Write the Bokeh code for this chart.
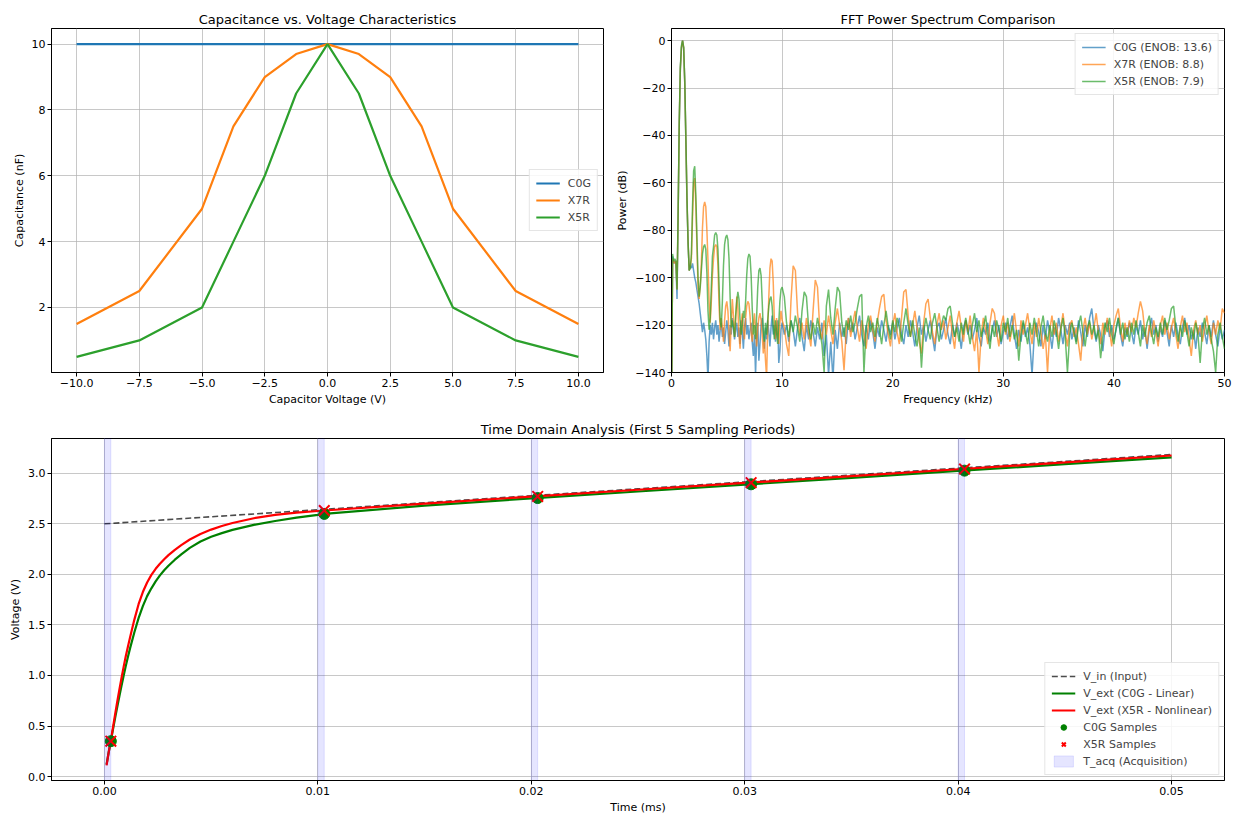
import numpy as np
from bokeh.plotting import figure
from bokeh.layouts import column, row
from bokeh.models import Range1d, CustomJSTickFormatter, Legend, LegendItem
from bokeh.embed import file_html
from bokeh.resources import INLINE

FONT = "DejaVu Sans"

# ---------------- Panel 1: capacitance vs voltage ----------------
cap_voltage = [-10, -7.5, -5, -3.75, -2.5, -1.25, 0, 1.25, 2.5, 3.75, 5, 7.5, 10]
cap_c0g = [10, 10, 10, 10, 10, 10, 10, 10, 10, 10, 10, 10, 10]
cap_x7r = [1.5, 2.5, 5.0, 7.5, 9.0, 9.7, 10.0, 9.7, 9.0, 7.5, 5.0, 2.5, 1.5]
cap_x5r = [0.5, 1.0, 2.0, 4.0, 6.0, 8.5, 10.0, 8.5, 6.0, 4.0, 2.0, 1.0, 0.5]

# ---------------- Panel 2: FFT spectrum ----------------
fft_freq_khz = np.concatenate([np.arange(0, 101) * 0.1, 10 + np.arange(1, 201) * 0.2])

c0g_lo = [[-160],
    [-91, -94, -93, -94, -109, -74, -36, -12, -3, 0],
    [-3, -18, -43, -68, -86, -97, -95, -96, -94, -97],
    [-100, -102, -105, -108, -111, -115, -119, -123, -119, -122],
    [-126, -133, -143, -127, -120, -124, -119, -126, -121, -118],
    [-124, -120, -127, -122, -119, -125, -121, -128, -123, -118],
    [-122, -129, -120, -124, -117, -121, -126, -122, -119, -125],
    [-121, -128, -118, -123, -130, -121, -117, -124, -120, -126],
    [-122, -119, -127, -133, -124, -141, -125, -119, -135, -128],
    [-120, -117, -124, -130, -121, -126, -118, -123, -129, -121],
    [-116, -124, -120, -127, -122, -118, -136, -131, -122, -119]]
c0g_hi = [
    [-124, -120, -127, -118, -122, -129, -121, -117, -125, -131],
    [-120, -126, -118, -123, -129, -121, -126, -119, -133, -124],
    [-141, -127, -143, -122, -130, -119, -125, -121, -128, -117],
    [-123, -119, -126, -121, -116, -124, -129, -120, -126, -118],
    [-123, -130, -121, -125, -118, -122, -127, -120, -124, -119],
    [-126, -121, -117, -124, -128, -120, -125, -118, -123, -129],
    [-121, -116, -124, -120, -127, -122, -118, -125, -131, -121],
    [-119, -126, -122, -117, -124, -128, -120, -125, -119, -123],
    [-130, -121, -118, -124, -120, -126, -122, -117, -125, -129],
    [-121, -124, -119, -127, -122, -118, -125, -120, -128, -123],
    [-119, -126, -121, -116, -124, -130, -122, -127, -119, -125],
    [-121, -128, -141, -124, -119, -123, -129, -120, -126, -118],
    [-123, -130, -121, -125, -117, -122, -128, -120, -124, -119],
    [-126, -121, -127, -118, -123, -129, -120, -125, -117, -113],
    [-122, -127, -120, -124, -131, -121, -118, -125, -120, -126],
    [-122, -117, -124, -129, -121, -125, -119, -123, -128, -120],
    [-124, -118, -126, -121, -130, -122, -117, -124, -120, -127],
    [-121, -125, -118, -123, -129, -120, -125, -119, -124, -128],
    [-121, -117, -124, -120, -126, -122, -130, -121, -125, -119],
    [-123, -128, -120, -125, -118, -124, -129, -121, -126, -122]]

x7r_lo = [[-160],
    [-92, -93, -94, -93, -105, -73, -35, -12, -3, 0],
    [-3, -18, -42, -67, -85, -97, -95, -92, -75, -60],
    [-58, -69, -87, -104, -109, -103, -94, -79, -70, -68],
    [-70, -80, -93, -110, -119, -110, -99, -92, -87, -86],
    [-87, -95, -112, -122, -117, -121, -127, -118, -112, -110],
    [-114, -123, -131, -119, -109, -116, -125, -118, -108, -113],
    [-124, -130, -119, -115, -122, -126, -117, -112, -110, -111],
    [-116, -123, -127, -120, -115, -122, -129, -121, -117, -115],
    [-118, -124, -132, -126, -135, -142, -121, -108, -96, -92],
    [-93, -102, -118, -126, -117, -123, -128, -119, -114, -118]]
x7r_hi = [
    [-121, -128, -133, -110, -95, -97, -115, -124, -119, -126],
    [-117, -123, -129, -114, -101, -104, -121, -126, -118, -124],
    [-116, -122, -128, -119, -113, -120, -127, -139, -122, -117],
    [-125, -119, -114, -121, -127, -118, -123, -130, -120, -116],
    [-122, -127, -119, -113, -108, -107, -118, -124, -129, -120],
    [-115, -123, -128, -117, -106, -105, -116, -125, -120, -114],
    [-121, -127, -132, -119, -111, -109, -117, -123, -128, -120],
    [-115, -122, -118, -126, -121, -116, -124, -130, -119, -114],
    [-121, -127, -118, -123, -116, -125, -131, -122, -140, -124],
    [-117, -122, -128, -119, -113, -115, -123, -129, -120, -116],
    [-124, -119, -127, -121, -115, -123, -129, -118, -124, -120],
    [-115, -122, -128, -119, -125, -117, -123, -130, -124, -140],
    [-122, -116, -124, -119, -127, -121, -115, -123, -129, -120],
    [-118, -125, -121, -128, -135, -122, -117, -124, -119, -126],
    [-121, -115, -123, -128, -119, -124, -117, -122, -129, -120],
    [-116, -113, -121, -127, -119, -124, -118, -123, -117, -121],
    [-115, -110, -114, -123, -128, -120, -125, -118, -123, -129],
    [-120, -116, -124, -119, -126, -121, -117, -124, -130, -121],
    [-116, -123, -119, -126, -133, -122, -118, -124, -120, -127],
    [-121, -116, -123, -128, -119, -124, -118, -122, -113, -115]]

x5r_lo = [[-160],
    [-90, -93, -92, -93, -105, -72, -34, -11, -2, 0],
    [-3, -17, -41, -66, -85, -97, -96, -90, -70, -55],
    [-53, -65, -83, -100, -108, -104, -97, -90, -87, -86],
    [-88, -98, -114, -122, -117, -104, -91, -87, -82, -81],
    [-82, -88, -103, -118, -121, -110, -95, -86, -83, -82],
    [-84, -92, -108, -121, -118, -121, -125, -116, -110, -106],
    [-109, -118, -124, -120, -114, -117, -110, -99, -92, -90],
    [-91, -99, -113, -124, -120, -126, -116, -104, -97, -96],
    [-99, -110, -122, -127, -119, -124, -118, -112, -109, -108],
    [-112, -121, -126, -118, -123, -128, -119, -110, -105, -104]]
x5r_hi = [
    [-108, -119, -125, -118, -123, -116, -121, -127, -114, -106],
    [-108, -121, -126, -119, -124, -117, -122, -128, -140, -112],
    [-105, -117, -124, -113, -104, -106, -119, -125, -118, -122],
    [-116, -123, -119, -113, -108, -107, -140, -121, -116, -123],
    [-119, -125, -117, -122, -128, -120, -114, -121, -126, -118],
    [-123, -117, -121, -127, -119, -113, -120, -125, -118, -124],
    [-129, -121, -138, -123, -117, -122, -126, -119, -115, -121],
    [-127, -120, -116, -118, -113, -112, -119, -125, -121, -127],
    [-119, -124, -117, -122, -128, -120, -115, -123, -118, -125],
    [-121, -116, -124, -130, -120, -125, -118, -122, -127, -119],
    [-123, -117, -125, -120, -126, -122, -135, -124, -118, -123],
    [-128, -119, -124, -117, -122, -129, -121, -116, -123, -127],
    [-120, -125, -118, -123, -130, -122, -117, -125, -140, -124],
    [-119, -123, -128, -120, -116, -123, -129, -121, -118, -124],
    [-120, -126, -122, -134, -125, -119, -123, -117, -124, -128],
    [-121, -117, -124, -119, -126, -121, -127, -119, -124, -118],
    [-123, -129, -120, -125, -119, -116, -123, -128, -121, -125],
    [-119, -124, -117, -122, -118, -113, -112, -121, -127, -120],
    [-125, -118, -123, -129, -121, -126, -119, -124, -136, -122],
    [-117, -124, -120, -126, -131, -140, -124, -119, -125, -130]]

fft_c0g = sum(c0g_lo + c0g_hi, [])
fft_x7r = sum(x7r_lo + x7r_hi, [])
fft_x5r = sum(x5r_lo + x5r_hi, [])

fft_labels = ["C0G (ENOB: 13.6)", "X7R (ENOB: 8.8)", "X5R (ENOB: 7.9)"]

# ---------------- Panel 3: time domain ----------------
vin_t = [0.0, 0.005, 0.01, 0.015, 0.02, 0.025, 0.03, 0.035, 0.04, 0.045, 0.05]
vin_v = [2.500, 2.570, 2.639, 2.709, 2.778, 2.846, 2.914, 2.982, 3.050, 3.117, 3.186]

ext_t = [0.0001, 0.0002, 0.0003, 0.0004, 0.0005, 0.0006, 0.0007, 0.0008, 0.0009, 0.001, 0.0011, 0.0012,
         0.0014, 0.0016, 0.0018, 0.002, 0.0022, 0.0024, 0.0026, 0.0028, 0.003,
         0.0033, 0.0036, 0.004, 0.0045, 0.005, 0.0055, 0.006,
         0.007, 0.008, 0.009, 0.010, 0.0103,
         0.015, 0.02, 0.025, 0.03, 0.035, 0.04, 0.045, 0.05]
ext_c0g = [0.12, 0.24, 0.35, 0.465, 0.578, 0.688, 0.795, 0.898, 0.998, 1.093, 1.183, 1.268,
           1.425, 1.567, 1.686, 1.785, 1.862, 1.930, 1.99, 2.04, 2.085,
           2.145, 2.198, 2.262, 2.325, 2.372, 2.408, 2.44,
           2.49, 2.528, 2.561, 2.589, 2.598,
           2.68, 2.752, 2.82, 2.888, 2.955, 3.023, 3.09, 3.158]
ext_x5r = [0.11, 0.24, 0.355, 0.485, 0.615, 0.74, 0.86, 0.975, 1.085, 1.19, 1.285, 1.375,
           1.55, 1.705, 1.825, 1.92, 1.995, 2.055, 2.105, 2.15, 2.19,
           2.243, 2.29, 2.345, 2.40, 2.443, 2.478, 2.508,
           2.555, 2.588, 2.61, 2.627, 2.632,
           2.70, 2.769, 2.837, 2.905, 2.972, 3.040, 3.107, 3.176]

sample_t = [0.0003, 0.0103, 0.0203, 0.0303, 0.0403]
sample_c0g = [0.35, 2.598, 2.755, 2.891, 3.026]
sample_x5r = [0.35, 2.632, 2.771, 2.907, 3.042]
acq_start = [0.0, 0.01, 0.02, 0.03, 0.04]
acq_end = [0.0003, 0.0103, 0.0203, 0.0303, 0.0403]

C0 = "#1f77b4"
C1 = "#ff7f0e"
C2 = "#2ca02c"


def style(p, title):
    p.title.text = title
    p.title.text_font = FONT
    p.title.text_font_style = "normal"
    p.title.text_font_size = "13px"
    p.title.align = "center"
    p.title.text_color = "black"
    p.title.standoff = 4
    p.outline_line_color = "black"
    p.outline_line_width = 1
    p.outline_line_alpha = 1
    p.background_fill_color = "white"
    p.border_fill_color = "white"
    for ax in p.axis:
        ax.axis_line_color = "black"
        ax.major_tick_in = 0
        ax.major_tick_out = 4
        ax.minor_tick_in = 0
        ax.minor_tick_out = 0
        ax.major_tick_line_color = "black"
        ax.major_label_text_font = FONT
        ax.major_label_text_font_size = "11px"
        ax.major_label_text_color = "black"
        ax.major_label_standoff = 2
        ax.axis_label_text_font = FONT
        ax.axis_label_text_font_size = "11px"
        ax.axis_label_text_font_style = "normal"
        ax.axis_label_text_color = "black"
        ax.axis_label_standoff = 3
    p.grid.grid_line_color = "#b0b0b0"
    p.grid.grid_line_alpha = 0.7
    p.grid.grid_line_width = 1


def style_legend(lg, loc):
    lg.location = loc
    lg.label_text_font = FONT
    lg.label_text_font_size = "11px"
    lg.glyph_width = 24
    lg.glyph_height = 14
    lg.label_height = 14
    lg.spacing = 3
    lg.padding = 6
    lg.margin = 5
    lg.label_standoff = 8
    lg.border_line_color = "#cccccc"
    lg.border_line_width = 1
    lg.background_fill_alpha = 0.85


def minus_fmt(digits):
    return CustomJSTickFormatter(code="return (tick < 0 ? '\u2212' : '') + Math.abs(tick).toFixed(%d);" % digits)


# ---- p1 ----
p1 = figure(width=612, height=408, output_backend="svg", toolbar_location=None,
            x_range=Range1d(-11.0, 11.0), y_range=Range1d(0.025, 10.475),
            min_border_left=51, min_border_right=9, min_border_top=28, min_border_bottom=36)
p1.line(cap_voltage, cap_c0g, line_color=C0, line_width=2.2, legend_label="C0G")
p1.line(cap_voltage, cap_x7r, line_color=C1, line_width=2.2, legend_label="X7R")
p1.line(cap_voltage, cap_x5r, line_color=C2, line_width=2.2, legend_label="X5R")
p1.xaxis.ticker = [-10, -7.5, -5, -2.5, 0, 2.5, 5, 7.5, 10]
p1.xaxis.formatter = minus_fmt(1)
p1.yaxis.ticker = [2, 4, 6, 8, 10]
p1.xaxis.axis_label = "Capacitor Voltage (V)"
p1.yaxis.axis_label = "Capacitance (nF)"
style(p1, "Capacitance vs. Voltage Characteristics")
style_legend(p1.legend[0], "center_right")

# ---- p2 ----
p2 = figure(width=626, height=408, output_backend="svg", toolbar_location=None,
            x_range=Range1d(0, 50), y_range=Range1d(-140, 5.1),
            min_border_left=59, min_border_right=14, min_border_top=28, min_border_bottom=36)
p2.line(fft_freq_khz, fft_c0g, line_color=C0, line_width=1.5, line_alpha=0.7, legend_label=fft_labels[0])
p2.line(fft_freq_khz, fft_x7r, line_color=C1, line_width=1.5, line_alpha=0.7, legend_label=fft_labels[1])
p2.line(fft_freq_khz, fft_x5r, line_color=C2, line_width=1.5, line_alpha=0.7, legend_label=fft_labels[2])
p2.xaxis.ticker = [0, 10, 20, 30, 40, 50]
p2.yaxis.ticker = [-140, -120, -100, -80, -60, -40, -20, 0]
p2.yaxis.formatter = minus_fmt(0)
p2.xaxis.axis_label = "Frequency (kHz)"
p2.yaxis.axis_label = "Power (dB)"
style(p2, "FFT Power Spectrum Comparison")
style_legend(p2.legend[0], "top_right")

# ---- p3 ----
y3_lo, y3_hi = -0.039, 3.344
p3 = figure(width=1238, height=408, output_backend="svg", toolbar_location=None,
            x_range=Range1d(-0.00248, 0.05248), y_range=Range1d(y3_lo, y3_hi),
            min_border_left=51, min_border_right=14, min_border_top=30, min_border_bottom=34)
r_vin = p3.line(vin_t, vin_v, line_color="black", line_alpha=0.7, line_width=1.6, line_dash="6 3")
r_g = p3.line(ext_t, ext_c0g, line_color="green", line_width=2.2)
r_r = p3.line(ext_t, ext_x5r, line_color="red", line_width=2.2)
r_gs = p3.scatter(sample_t, sample_c0g, marker="circle", size=11, fill_color="green", line_color="green")
r_rs = p3.scatter(sample_t, sample_x5r, marker="x", size=15, line_color="red", line_width=2)
r_acq = p3.quad(left=acq_start, right=acq_end, bottom=y3_lo, top=y3_hi,
                fill_color="blue", fill_alpha=0.1, line_color="blue", line_alpha=0.1)
p3.xaxis.ticker = [0.0, 0.01, 0.02, 0.03, 0.04, 0.05]
p3.xaxis.formatter = minus_fmt(2)
p3.yaxis.ticker = [0.0, 0.5, 1.0, 1.5, 2.0, 2.5, 3.0]
p3.yaxis.formatter = minus_fmt(1)
p3.xaxis.axis_label = "Time (ms)"
p3.yaxis.axis_label = "Voltage (V)"
style(p3, "Time Domain Analysis (First 5 Sampling Periods)")
lg3 = Legend(items=[
    LegendItem(label="V_in (Input)", renderers=[r_vin]),
    LegendItem(label="V_ext (C0G - Linear)", renderers=[r_g]),
    LegendItem(label="V_ext (X5R - Nonlinear)", renderers=[r_r]),
    LegendItem(label="C0G Samples", renderers=[r_gs]),
    LegendItem(label="X5R Samples", renderers=[r_rs]),
    LegendItem(label="T_acq (Acquisition)", renderers=[r_acq]),
])
style_legend(lg3, "bottom_right")
p3.add_layout(lg3)

layout = column(row(p1, p2), p3)
open("out.html", "w").write(file_html(layout, INLINE))
